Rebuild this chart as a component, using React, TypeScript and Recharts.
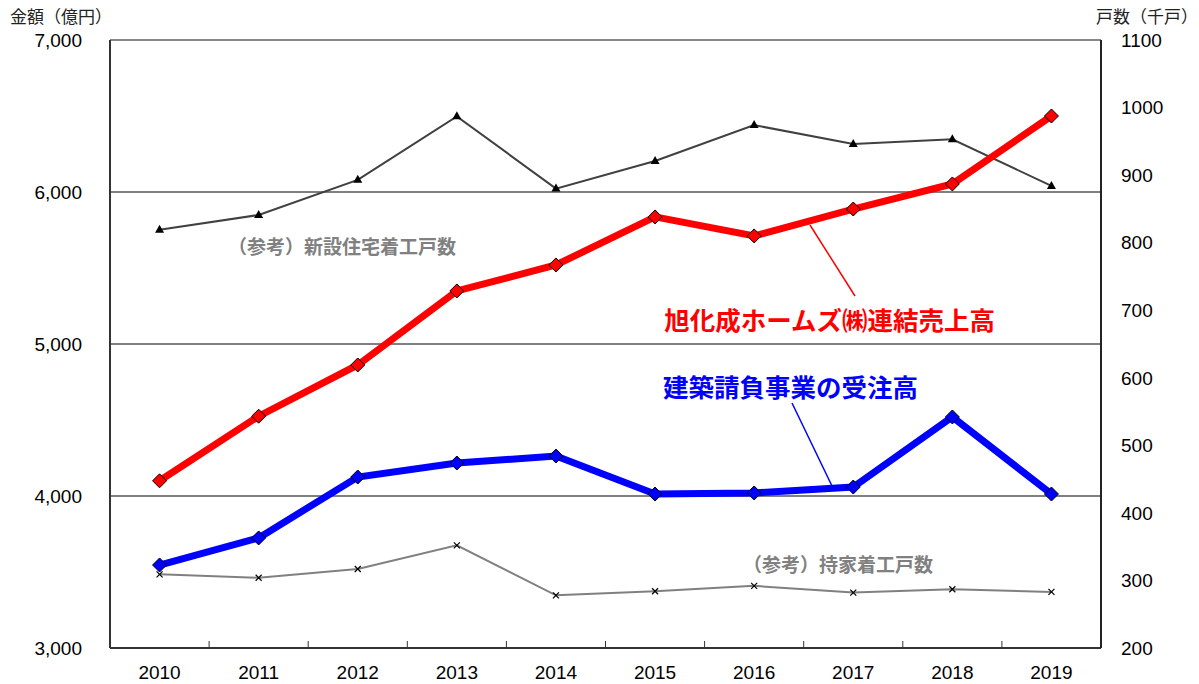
import React from "react";
import { ComposedChart, Line, XAxis, YAxis, ReferenceLine } from "recharts";

const YEARS = ["2010", "2011", "2012", "2013", "2014", "2015", "2016", "2017", "2018", "2019"];
const SALES = [4100, 4525, 4862, 5349, 5520, 5836, 5711, 5888, 6053, 6500];
const ORDERS = [3546, 3724, 4125, 4217, 4263, 4013, 4020, 4059, 4520, 4013];
const NEW_STARTS = [819, 841, 893, 987, 880, 921, 974, 946, 953, 884];
const OWNER_STARTS = [309, 304, 317, 352, 278, 284, 292, 282, 287, 283];
const LEFT_TICKS = [3000, 4000, 5000, 6000, 7000];
const RIGHT_TICKS = [200, 300, 400, 500, 600, 700, 800, 900, 1000, 1100];
const GRID_VALUES = [4000, 5000, 6000];

const data = YEARS.map((y, i) => ({
  year: y,
  sales: SALES[i],
  orders: ORDERS[i],
  newStarts: NEW_STARTS[i],
  ownerStarts: OWNER_STARTS[i],
}));

const W = 1199;
const H = 684;
const M = { top: 40, right: 38, bottom: 6, left: 50 };
const Y_W = 60;
const PLOT_W = W - M.left - M.right - 2 * Y_W;
const HALF = PLOT_W / YEARS.length / 2;

const NUM_FONT = "'Liberation Sans', Arial, sans-serif";
const JP_FONT = "'Noto Sans CJK JP', sans-serif";

const XTick = (props: any) => {
  const { x, y, payload, index } = props;
  return (
    <g>
      <text x={x} y={y + 31} textAnchor="middle" fontSize={19} fontFamily={NUM_FONT} fill="#000">
        {payload.value}
      </text>
      {index < YEARS.length - 1 && (
        <line x1={x + HALF} x2={x + HALF} y1={y} y2={y - 7} stroke="#333" strokeWidth={1} />
      )}
    </g>
  );
};

const diamond = (fill: string) => (props: any) => {
  const { cx, cy, index } = props;
  const r = 7;
  return (
    <path
      key={`d-${fill}-${index}`}
      d={`M${cx},${cy - r}L${cx + r},${cy}L${cx},${cy + r}L${cx - r},${cy}Z`}
      fill={fill}
      stroke="#000"
      strokeWidth={1}
    />
  );
};

const triangle = (props: any) => {
  const { cx, cy, index } = props;
  return (
    <path
      key={`t-${index}`}
      d={`M${cx},${cy - 5}L${cx + 4.5},${cy + 3}L${cx - 4.5},${cy + 3}Z`}
      fill="#000"
    />
  );
};

const cross = (props: any) => {
  const { cx, cy, index } = props;
  const r = 3;
  return (
    <g key={`x-${index}`}>
      <line x1={cx - r} y1={cy - r} x2={cx + r} y2={cy + r} stroke="#000" strokeWidth={1.2} />
      <line x1={cx - r} y1={cy + r} x2={cx + r} y2={cy - r} stroke="#000" strokeWidth={1.2} />
    </g>
  );
};

export default function App() {
  return (
    <div style={{ position: "absolute", left: 0, top: 0, width: W, height: H, background: "#fff" }}>
      <ComposedChart width={W} height={H} data={data} margin={M}>
        {GRID_VALUES.map((v) => (
          <ReferenceLine key={v} yAxisId="left" y={v} stroke="#000" strokeWidth={1} />
        ))}
        <ReferenceLine yAxisId="left" y={7000} stroke="#888" strokeWidth={2} />
        <XAxis
          dataKey="year"
          height={30}
          tickLine={false}
          tickSize={0}
          tickMargin={0}
          padding={{ left: HALF, right: HALF }}
          axisLine={{ stroke: "#333", strokeWidth: 2 }}
          tick={<XTick />}
          interval={0}
        />
        <YAxis
          yAxisId="left"
          orientation="left"
          width={Y_W}
          domain={[3000, 7000]}
          ticks={LEFT_TICKS}
          tickFormatter={(v: number) => v.toLocaleString("en-US")}
          tickLine={false}
          tickSize={0}
          tickMargin={28}
          axisLine={{ stroke: "#333", strokeWidth: 2 }}
          tick={{ fill: "#000", fontSize: 19, fontFamily: NUM_FONT }}
          interval={0}
        />
        <YAxis
          yAxisId="right"
          orientation="right"
          width={Y_W}
          domain={[200, 1100]}
          ticks={RIGHT_TICKS}
          tickLine={false}
          tickSize={0}
          tickMargin={20}
          axisLine={{ stroke: "#222", strokeWidth: 2 }}
          tick={{ fill: "#000", fontSize: 19, fontFamily: NUM_FONT }}
          interval={0}
        />
        <Line
          yAxisId="right"
          dataKey="newStarts"
          stroke="#404040"
          strokeWidth={2}
          dot={triangle}
          isAnimationActive={false}
        />
        <Line
          yAxisId="right"
          dataKey="ownerStarts"
          stroke="#808080"
          strokeWidth={2}
          dot={cross}
          isAnimationActive={false}
        />
        <Line
          yAxisId="left"
          dataKey="orders"
          stroke="#0000ff"
          strokeWidth={7}
          dot={diamond("#0000ff")}
          isAnimationActive={false}
        />
        <Line
          yAxisId="left"
          dataKey="sales"
          stroke="#ff0000"
          strokeWidth={7}
          dot={diamond("#ff0000")}
          isAnimationActive={false}
        />
      </ComposedChart>
      <svg
        width={W}
        height={H}
        style={{ position: "absolute", left: 0, top: 0, pointerEvents: "none" }}
      >
        <text x={10} y={23} fontSize={17} fontFamily={JP_FONT} fill="#222">
          金額（億円）
        </text>
        <text x={1198} y={23} textAnchor="end" fontSize={17} fontFamily={JP_FONT} fill="#222">
          戸数（千戸）
        </text>
        <text x={456} y={254} textAnchor="end" fontSize={19} fontWeight="bold" fontFamily={JP_FONT} fill="#808080">
          （参考）新設住宅着工戸数
        </text>
        <text x={933} y={572} textAnchor="end" fontSize={19} fontWeight="bold" fontFamily={JP_FONT} fill="#808080">
          （参考）持家着工戸数
        </text>
        <line x1={810} y1={225} x2={855} y2={296} stroke="#ff0000" strokeWidth={1.5} />
        <text x={995} y={330} textAnchor="end" fontSize={25.5} fontWeight="bold" fontFamily={JP_FONT} fill="#ff0000">
          旭化成ホームズ㈱連結売上高
        </text>
        <line x1={792} y1={403} x2={832} y2={486} stroke="#0000ff" strokeWidth={1.5} />
        <text x={918} y={397} textAnchor="end" fontSize={25.5} fontWeight="bold" fontFamily={JP_FONT} fill="#0000ff">
          建築請負事業の受注高
        </text>
      </svg>
    </div>
  );
}
